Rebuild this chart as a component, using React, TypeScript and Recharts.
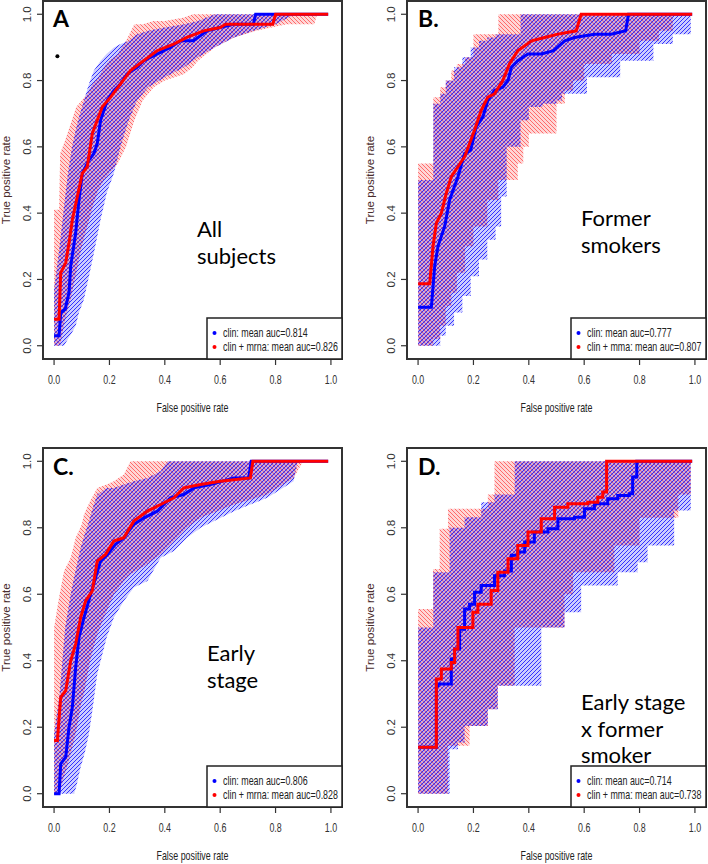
import React from "react";
import { ComposedChart, Area, Line, Scatter, XAxis, YAxis, ReferenceArea } from "recharts";

type Pt = [number, number];
type Row = [number, number, number];

// A. all subjects
const aClinCurve: Pt[] = [
  [0, 0.03], [0.018, 0.03], [0.024, 0.1], [0.04, 0.11], [0.054, 0.16], [0.06, 0.24], [0.078, 0.34],
  [0.09, 0.44], [0.102, 0.52], [0.126, 0.56], [0.144, 0.58], [0.156, 0.61], [0.168, 0.68], [0.192, 0.74],
  [0.216, 0.77], [0.24, 0.79], [0.264, 0.82], [0.3, 0.84], [0.324, 0.86], [0.372, 0.88], [0.42, 0.9],
  [0.456, 0.92], [0.504, 0.92], [0.552, 0.95], [0.6, 0.96], [0.647, 0.97], [0.72, 0.97], [0.728, 1], [0.99, 1],
];
const aMrnaCurve: Pt[] = [
  [0, 0.08], [0.018, 0.08], [0.024, 0.22], [0.042, 0.25], [0.054, 0.31], [0.066, 0.38], [0.084, 0.45],
  [0.102, 0.52], [0.12, 0.54], [0.138, 0.64], [0.156, 0.68], [0.174, 0.72], [0.204, 0.75], [0.24, 0.79],
  [0.276, 0.83], [0.324, 0.86], [0.372, 0.89], [0.432, 0.91], [0.48, 0.93], [0.54, 0.95], [0.6, 0.96],
  [0.62, 0.97], [0.79, 0.97], [0.8, 1], [0.99, 1],
];
// [fpr, lower, upper]
const aClinBand: Row[] = [
  [0, 0, 0.17], [0.02, 0, 0.3], [0.036, 0, 0.42], [0.05, 0.02, 0.52], [0.065, 0.04, 0.6], [0.078, 0.06, 0.65],
  [0.09, 0.1, 0.69], [0.108, 0.14, 0.74], [0.126, 0.21, 0.79], [0.144, 0.28, 0.83], [0.168, 0.38, 0.86],
  [0.19, 0.46, 0.88], [0.216, 0.52, 0.9], [0.24, 0.6, 0.91], [0.27, 0.68, 0.92], [0.3, 0.74, 0.94],
  [0.34, 0.78, 0.95], [0.4, 0.81, 0.96], [0.47, 0.84, 0.97], [0.52, 0.87, 0.98], [0.58, 0.9, 1],
  [0.65, 0.93, 1], [0.72, 0.95, 1], [0.8, 0.97, 1], [0.87, 1, 1],
];
const aMrnaBand: Row[] = [
  [0, 0, 0.41], [0.018, 0, 0.41], [0.022, 0, 0.58], [0.04, 0.08, 0.62], [0.06, 0.14, 0.67], [0.08, 0.22, 0.72],
  [0.1, 0.3, 0.74], [0.12, 0.36, 0.76], [0.14, 0.42, 0.79], [0.16, 0.47, 0.81], [0.18, 0.5, 0.84],
  [0.2, 0.52, 0.86], [0.23, 0.55, 0.88], [0.26, 0.6, 0.92], [0.29, 0.68, 0.97], [0.32, 0.74, 0.97],
  [0.36, 0.78, 0.98], [0.4, 0.8, 0.98], [0.47, 0.82, 0.99], [0.5, 0.84, 1], [0.52, 0.86, 1], [0.58, 0.9, 1],
  [0.65, 0.93, 1], [0.73, 0.95, 1], [0.84, 0.97, 1], [0.94, 0.97, 1], [0.95, 1, 1],
];
const aMarker: Pt[] = [[0.012, 0.873]];

// B. former smokers
const bClinCurve: Pt[] = [
  [0, 0.116], [0.048, 0.116], [0.06, 0.24], [0.072, 0.3], [0.096, 0.36], [0.114, 0.44], [0.144, 0.51],
  [0.168, 0.58], [0.19, 0.59], [0.21, 0.66], [0.234, 0.69], [0.252, 0.74], [0.276, 0.77], [0.306, 0.78],
  [0.325, 0.8], [0.337, 0.84], [0.36, 0.86], [0.397, 0.88], [0.445, 0.88], [0.49, 0.89], [0.53, 0.92],
  [0.565, 0.93], [0.637, 0.94], [0.697, 0.94], [0.75, 0.95], [0.76, 1], [0.99, 1],
];
const bMrnaCurve: Pt[] = [
  [0, 0.187], [0.042, 0.187], [0.054, 0.3], [0.066, 0.37], [0.084, 0.4], [0.102, 0.46], [0.12, 0.51],
  [0.144, 0.54], [0.168, 0.57], [0.186, 0.61], [0.204, 0.65], [0.228, 0.71], [0.252, 0.75], [0.276, 0.76],
  [0.306, 0.8], [0.33, 0.85], [0.36, 0.89], [0.41, 0.92], [0.457, 0.93], [0.505, 0.94], [0.571, 0.95],
  [0.589, 1], [0.99, 1],
];
const bClinBand: Row[] = [
  [0, 0, 0.5], [0.055, 0, 0.73], [0.08, 0.03, 0.76], [0.1, 0.06, 0.8], [0.13, 0.1, 0.84], [0.16, 0.15, 0.87],
  [0.19, 0.21, 0.9], [0.22, 0.26, 0.92], [0.25, 0.32, 0.93], [0.28, 0.36, 0.94], [0.3, 0.45, 0.94],
  [0.32, 0.6, 0.94], [0.37, 0.68, 1], [0.4, 0.72, 1], [0.45, 0.73, 1], [0.5, 0.74, 1], [0.52, 0.76, 1],
  [0.61, 0.81, 1], [0.73, 0.86, 1], [0.85, 0.91, 1], [0.92, 0.94, 1], [0.985, 0.94, 1],
];
const bMrnaBand: Row[] = [
  [0, 0, 0.55], [0.055, 0.02, 0.75], [0.08, 0.06, 0.78], [0.1, 0.12, 0.8], [0.12, 0.16, 0.83],
  [0.14, 0.22, 0.85], [0.17, 0.3, 0.87], [0.2, 0.36, 0.94], [0.25, 0.44, 0.94], [0.29, 0.5, 1],
  [0.36, 0.55, 1], [0.38, 0.6, 1], [0.4, 0.64, 1], [0.5, 0.73, 1], [0.53, 0.77, 1], [0.56, 0.8, 1],
  [0.6, 0.85, 1], [0.7, 0.88, 1], [0.8, 0.92, 1], [0.87, 0.95, 1], [0.92, 1, 1],
];

// C. early stage
const cClinCurve: Pt[] = [
  [0, 0], [0.018, 0], [0.024, 0.09], [0.042, 0.11], [0.054, 0.2], [0.066, 0.26], [0.078, 0.38], [0.09, 0.47],
  [0.108, 0.53], [0.132, 0.6], [0.15, 0.65], [0.168, 0.7], [0.192, 0.72], [0.222, 0.75], [0.252, 0.77],
  [0.288, 0.81], [0.325, 0.83], [0.373, 0.85], [0.42, 0.89], [0.469, 0.9], [0.505, 0.92], [0.565, 0.93],
  [0.65, 0.95], [0.703, 0.95], [0.712, 1], [0.99, 1],
];
const cMrnaCurve: Pt[] = [
  [0, 0.16], [0.012, 0.16], [0.024, 0.29], [0.042, 0.31], [0.06, 0.4], [0.078, 0.45], [0.096, 0.53],
  [0.114, 0.58], [0.138, 0.61], [0.156, 0.7], [0.186, 0.72], [0.216, 0.76], [0.252, 0.77], [0.288, 0.82],
  [0.337, 0.85], [0.385, 0.87], [0.433, 0.89], [0.469, 0.92], [0.529, 0.93], [0.6, 0.94], [0.709, 0.95],
  [0.718, 1], [0.99, 1],
];
const cClinBand: Row[] = [
  [0, 0, 0.18], [0.02, 0, 0.3], [0.04, 0, 0.5], [0.06, 0, 0.6], [0.072, 0, 0.65], [0.08, 0.02, 0.68],
  [0.096, 0.08, 0.74], [0.11, 0.12, 0.78], [0.126, 0.18, 0.82], [0.14, 0.26, 0.86], [0.156, 0.36, 0.9],
  [0.19, 0.47, 0.92], [0.216, 0.53, 0.92], [0.252, 0.58, 0.93], [0.288, 0.62, 0.94], [0.337, 0.64, 0.95],
  [0.385, 0.71, 0.97], [0.41, 0.72, 1], [0.433, 0.73, 1], [0.48, 0.77, 1], [0.529, 0.8, 1], [0.65, 0.85, 1],
  [0.77, 0.89, 1], [0.865, 0.94, 1], [0.88, 1, 1],
];
const cMrnaBand: Row[] = [
  [0, 0, 0.5], [0.018, 0, 0.59], [0.036, 0.05, 0.67], [0.06, 0.12, 0.71], [0.078, 0.18, 0.77],
  [0.1, 0.28, 0.81], [0.108, 0.3, 0.84], [0.13, 0.4, 0.88], [0.156, 0.48, 0.92], [0.19, 0.55, 0.93],
  [0.216, 0.6, 0.94], [0.252, 0.64, 0.96], [0.276, 0.66, 1], [0.337, 0.69, 1], [0.385, 0.72, 1],
  [0.433, 0.76, 1], [0.48, 0.8, 1], [0.529, 0.83, 1], [0.65, 0.87, 1], [0.77, 0.9, 1], [0.865, 0.95, 1],
  [0.9, 1, 1],
];

// D. early stage x former smoker
const dClinCurve: Pt[] = [
  [0, 0.14], [0.048, 0.14], [0.066, 0.325], [0.072, 0.33], [0.108, 0.33], [0.12, 0.405], [0.132, 0.435],
  [0.15, 0.495], [0.168, 0.556], [0.186, 0.57], [0.204, 0.606], [0.228, 0.626], [0.264, 0.626],
  [0.276, 0.656], [0.312, 0.67], [0.337, 0.717], [0.36, 0.727], [0.385, 0.757], [0.42, 0.787],
  [0.469, 0.797], [0.505, 0.827], [0.565, 0.832], [0.601, 0.857], [0.637, 0.872], [0.685, 0.887],
  [0.721, 0.897], [0.763, 0.902], [0.775, 0.953], [0.79, 1], [0.99, 1],
];
const dMrnaCurve: Pt[] = [
  [0, 0.14], [0.054, 0.14], [0.066, 0.345], [0.084, 0.375], [0.102, 0.375], [0.12, 0.395], [0.132, 0.435],
  [0.144, 0.5], [0.186, 0.5], [0.198, 0.546], [0.216, 0.57], [0.252, 0.57], [0.264, 0.611], [0.288, 0.666],
  [0.325, 0.707], [0.36, 0.747], [0.397, 0.787], [0.445, 0.827], [0.493, 0.862], [0.541, 0.872],
  [0.613, 0.877], [0.649, 0.892], [0.667, 0.908], [0.681, 1], [0.99, 1],
];
const dClinBand: Row[] = [
  [0, 0, 0.5], [0.055, 0, 0.666], [0.114, 0.134, 0.8], [0.144, 0.154, 0.8], [0.168, 0.204, 0.832],
  [0.228, 0.204, 0.877], [0.252, 0.254, 0.877], [0.276, 0.254, 0.9], [0.288, 0.325, 0.9], [0.349, 0.325, 1],
  [0.445, 0.5, 1], [0.529, 0.546, 1], [0.589, 0.626, 1], [0.721, 0.666, 1], [0.793, 0.696, 1],
  [0.829, 0.747, 1], [0.925, 0.852, 1], [0.985, 0.852, 1],
];
const dMrnaBand: Row[] = [
  [0, 0, 0.556], [0.054, 0, 0.676], [0.078, 0, 0.797], [0.108, 0.144, 0.857], [0.186, 0.204, 0.857],
  [0.252, 0.254, 0.9], [0.276, 0.254, 1], [0.288, 0.325, 1], [0.349, 0.5, 1], [0.529, 0.6, 1],
  [0.56, 0.666, 1], [0.709, 0.747, 1], [0.8, 0.83, 1], [0.94, 0.9, 1], [0.985, 0.9, 1],
];

const axisTicks = [0, 0.2, 0.4, 0.6, 0.8, 1];
const panelLetters = ["A", "B.", "C.", "D."];
const panelNotes = [["All", "subjects"], ["Former", "smokers"], ["Early", "stage"], ["Early stage", "x former", "smoker"]];
const clinAuc = ["0.814", "0.777", "0.806", "0.714"];
const mrnaAuc = ["0.826", "0.807", "0.828", "0.738"];
const mrnaLabel = ["mrna", "mma", "mrna", "mma"];

const W = 354;
const H = 432;
const rFont = '"Liberation Sans", Arial, Helvetica, sans-serif';
const noteFont = 'Lato, "Open Sans", sans-serif';
const BLUE = "#0000ff";
const RED = "#ff0000";

const panels = [
  { id: "a", left: 0, top: 0, box: { l: 43, r: 342, t: 1, b: 359 }, clinCurve: aClinCurve, mrnaCurve: aMrnaCurve,
    clinBand: aClinBand, mrnaBand: aMrnaBand, marker: aMarker, bandStep: false, lineStep: false,
    letterX: 53, letterY: 27, noteX: 197, noteY: 237 },
  { id: "b", left: 354, top: 0, box: { l: 53, r: 352, t: 1, b: 359 }, clinCurve: bClinCurve, mrnaCurve: bMrnaCurve,
    clinBand: bClinBand, mrnaBand: bMrnaBand, marker: [], bandStep: true, lineStep: false,
    letterX: 64, letterY: 27, noteX: 227, noteY: 226 },
  { id: "c", left: 0, top: 432, box: { l: 43, r: 342, t: 16, b: 375 }, clinCurve: cClinCurve, mrnaCurve: cMrnaCurve,
    clinBand: cClinBand, mrnaBand: cMrnaBand, marker: [], bandStep: false, lineStep: false,
    letterX: 53, letterY: 43, noteX: 207, noteY: 229 },
  { id: "d", left: 354, top: 432, box: { l: 53, r: 352, t: 16, b: 375 }, clinCurve: dClinCurve, mrnaCurve: dMrnaCurve,
    clinBand: dClinBand, mrnaBand: dMrnaBand, marker: [], bandStep: true, lineStep: true,
    letterX: 64, letterY: 43, noteX: 227, noteY: 278 },
];
const noteSize = 22;
const noteGap = 26.5;

const toPts = (arr: Pt[]) => arr.map(([x, y]) => ({ x, y }));
const toBand = (arr: Row[]) => arr.map(([x, lo, hi]) => ({ x, band: [lo, hi] }));

const XTick = (props: any) => {
  const { x, y, payload } = props;
  return (
    <g transform={`translate(${x},${y}) scale(0.74,1)`}>
      <text x={0} y={0} dy={17} textAnchor="middle" fontSize={12} fontFamily={rFont} fill="#333">
        {Number(payload.value).toFixed(1)}
      </text>
    </g>
  );
};

const YTick = (props: any) => {
  const { x, y, payload } = props;
  return (
    <g transform={`translate(${x - 4},${y}) rotate(-90) scale(1,0.95)`}>
      <text x={0} y={0} textAnchor="middle" fontSize={11.5} fontFamily={rFont} fill="#333">
        {Number(payload.value).toFixed(1)}
      </text>
    </g>
  );
};

function RocPanel({ p, i }: { p: any; i: number }) {
  const { box } = p;
  const blueId = `hatch-blue-${p.id}`;
  const redId = `hatch-red-${p.id}`;
  const legW = 135;
  const legH = 41;
  return (
    <div style={{ position: "absolute", left: p.left, top: p.top, width: W, height: H }}>
      <ComposedChart width={W} height={H} margin={{ top: box.t, right: W - box.r, bottom: 0, left: 0 }}>
        <defs>
          <pattern id={blueId} patternUnits="userSpaceOnUse" width={4} height={4}>
            <rect width={4} height={4} fill={BLUE} fillOpacity={0.2} />
            <path d="M0,4 L4,0 M-1,1 L1,-1 M3,5 L5,3" stroke={BLUE} strokeOpacity={0.75} strokeWidth={1} />
          </pattern>
          <pattern id={redId} patternUnits="userSpaceOnUse" width={4} height={4}>
            <rect width={4} height={4} fill={RED} fillOpacity={0.16} />
            <path d="M0,0 L4,4 M-1,3 L1,5 M3,-1 L5,1" stroke={RED} strokeOpacity={0.5} strokeWidth={1} />
          </pattern>
        </defs>
        <XAxis type="number" dataKey="x" domain={[-0.04, 1.04]} ticks={axisTicks} interval={0} allowDataOverflow
          height={H - box.b} axisLine={false} tickSize={6} tickMargin={2}
          tickLine={{ stroke: "#333", strokeWidth: 1.2 }} tick={XTick} />
        <YAxis type="number" domain={[-0.04, 1.04]} ticks={axisTicks} interval={0} allowDataOverflow
          width={box.l} axisLine={false} tickSize={6} tickMargin={2}
          tickLine={{ stroke: "#333", strokeWidth: 1.2 }} tick={YTick} />
        <Area data={toBand(p.mrnaBand)} dataKey="band" type={p.bandStep ? "stepAfter" : "linear"}
          fill={`url(#${redId})`} fillOpacity={1} stroke="none" isAnimationActive={false} />
        <Area data={toBand(p.clinBand)} dataKey="band" type={p.bandStep ? "stepAfter" : "linear"}
          fill={`url(#${blueId})`} fillOpacity={1} stroke="none" isAnimationActive={false} />
        <Line data={toPts(p.clinCurve)} dataKey="y" type={p.lineStep ? "stepAfter" : "linear"}
          stroke={BLUE} strokeWidth={3} dot={false} isAnimationActive={false} />
        <Line data={toPts(p.mrnaCurve)} dataKey="y" type={p.lineStep ? "stepAfter" : "linear"}
          stroke={RED} strokeWidth={3} dot={false} isAnimationActive={false} />
        {p.marker.length > 0 && (
          <Scatter data={toPts(p.marker)} dataKey="y" isAnimationActive={false}
            shape={(s: any) => <circle cx={s.cx} cy={s.cy} r={2} fill="#000" />} />
        )}
        <ReferenceArea x1={-0.04} x2={1.04} y1={-0.04} y2={1.04} fill="none" stroke="#333" strokeWidth={2}
          ifOverflow="visible" />
      </ComposedChart>
      <svg width={W} height={H} style={{ position: "absolute", left: 0, top: 0, pointerEvents: "none" }}>
        <text x={p.letterX} y={p.letterY} fontFamily={noteFont} fontWeight={700} fontSize={23} fill="#000">
          {panelLetters[i]}
        </text>
        <text x={p.noteX} y={p.noteY} fontFamily={noteFont} fontSize={noteSize} fill="#000">
          {panelNotes[i].map((line: string, k: number) => (
            <tspan key={k} x={p.noteX} dy={k === 0 ? 0 : noteGap}>{line}</tspan>
          ))}
        </text>
        <g transform={`translate(${(box.l + box.r) / 2},${box.b + 53}) scale(0.74,1)`}>
          <text textAnchor="middle" fontSize={12} fontFamily={rFont} fill="#222">False positive rate</text>
        </g>
        <g transform={`translate(${box.l - 33},${(box.t + box.b) / 2}) rotate(-90) scale(1,0.9)`}>
          <text textAnchor="middle" fontSize={11.5} fontFamily={rFont} fill="#4a2c2c">True positive rate</text>
        </g>
        <g transform={`translate(${box.r - legW},${box.b - legH})`}>
          <rect x={0} y={0} width={legW} height={legH} fill="#fff" stroke="#222" strokeWidth={1.5} />
          <circle cx={7.5} cy={15} r={2} fill={BLUE} />
          <circle cx={7.5} cy={29} r={2} fill={RED} />
          <g transform="translate(16,15) scale(0.74,1)">
            <text dy="0.35em" fontSize={12} fontFamily={rFont} fill="#222">{`clin: mean auc=${clinAuc[i]}`}</text>
          </g>
          <g transform="translate(16,29) scale(0.74,1)">
            <text dy="0.35em" fontSize={12} fontFamily={rFont} fill="#222">
              {`clin + ${mrnaLabel[i]}: mean auc=${mrnaAuc[i]}`}
            </text>
          </g>
        </g>
      </svg>
    </div>
  );
}

export default function App() {
  return (
    <div style={{ position: "absolute", left: 0, top: 0, width: 708, height: 864, background: "#fff" }}>
      {panels.map((p, i) => (
        <RocPanel key={p.id} p={p} i={i} />
      ))}
    </div>
  );
}
